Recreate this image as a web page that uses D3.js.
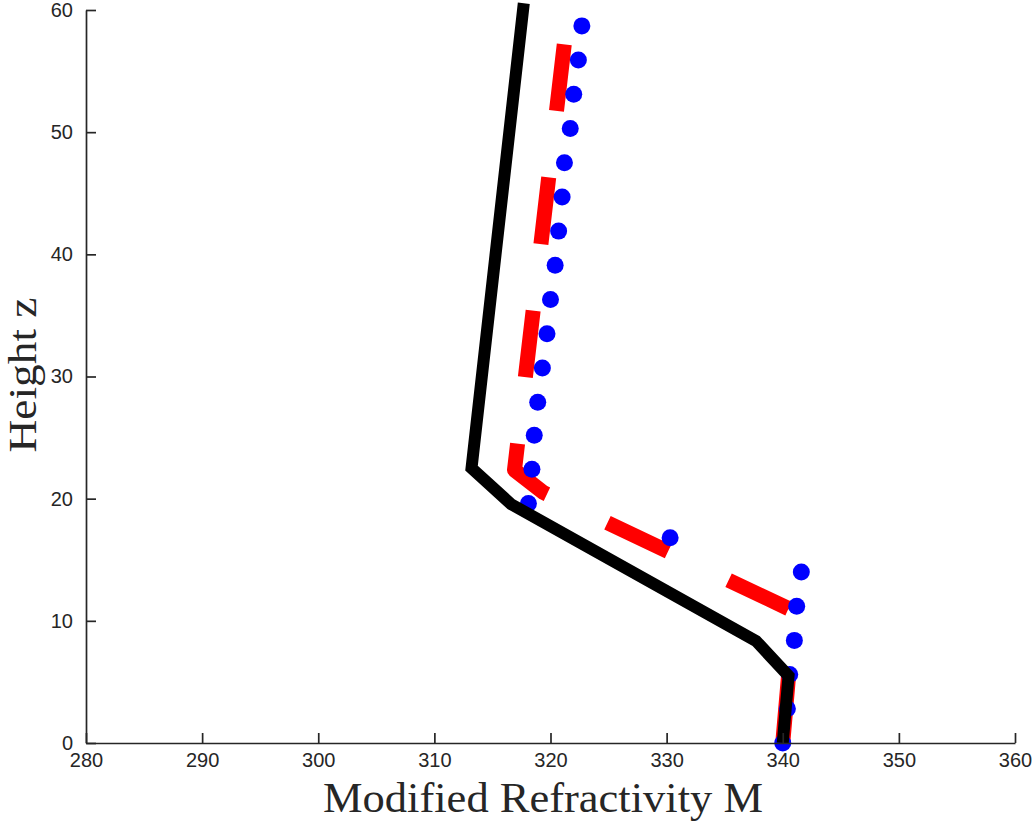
<!DOCTYPE html>
<html>
<head>
<meta charset="utf-8">
<script src="https://cdn.jsdelivr.net/npm/d3@7"></script>
<style>
  body { margin: 0; background: #fff; }
  .tick text { font-family: "Liberation Sans", Arial, sans-serif; font-size: 20px; fill: #262626; }
</style>
</head>
<body>
<div id="wrapper"></div>
<script>
// measured profile: solid black
var trueM = [340.0, 340.5, 337.7, 316.6, 313.2, 317.7];
var trueZ = [0, 5.5, 8.35, 19.55, 22.5, 60.55];

// estimated profile: red dashes
var estM = [340.0, 340.5, 340.5, 319.4, 316.9, 321.2];
var estZ = [0, 5.5, 11.0, 20.5, 22.35, 57.3];

// sampled points: blue dots
var dotM = [340.0, 340.4, 340.6, 341.0, 341.2, 341.6, 330.3, 318.1, 318.4, 318.6, 318.9,
            319.3, 319.7, 320.0, 320.4, 320.7, 321.0, 321.2, 321.7, 322.0, 322.4, 322.7];
var dotZ = [0, 2.8, 5.6, 8.4, 11.2, 14.0, 16.8, 19.6, 22.4, 25.2, 27.9,
            30.7, 33.5, 36.3, 39.1, 41.9, 44.7, 47.5, 50.3, 53.1, 55.9, 58.7];

var xTicks = [280, 290, 300, 310, 320, 330, 340, 350, 360];
var yTicks = [0, 10, 20, 30, 40, 50, 60];

var dimension = {
    width: 1032,
    height: 823,
    margin: { top: 10, left: 86, bottom: 80, right: 17 }
};
dimension.boundedWidth = dimension.width - dimension.margin.left - dimension.margin.right;
dimension.boundedHeight = dimension.height - dimension.margin.top - dimension.margin.bottom;

const svg = d3.select("#wrapper")
    .append("svg")
    .attr("width", dimension.width)
    .attr("height", dimension.height);

const bounded = svg.append("g")
    .attr("transform", `translate(${dimension.margin.left},${dimension.margin.top})`);

const xScaler = d3.scaleLinear().domain([280, 360]).range([0, dimension.boundedWidth]);
const yScaler = d3.scaleLinear().domain([0, 60]).range([dimension.boundedHeight, 0]);

const line = d3.line().x(d => xScaler(d[0])).y(d => yScaler(d[1]));

// red dashed estimate
bounded.append("path")
    .datum(d3.zip(estM, estZ))
    .attr("d", line)
    .attr("fill", "none")
    .attr("stroke", "#ff0000")
    .attr("stroke-width", 15)
    .attr("stroke-dasharray", "67 67")
    .attr("stroke-linejoin", "round");

// blue dots
bounded.append("g")
    .selectAll("circle")
    .data(d3.zip(dotM, dotZ))
    .enter()
    .append("circle")
    .attr("cx", d => xScaler(d[0]))
    .attr("cy", d => yScaler(d[1]))
    .attr("r", 8.5)
    .attr("fill", "#0000ff");

// black solid line
bounded.append("path")
    .datum(d3.zip(trueM, trueZ))
    .attr("d", line)
    .attr("fill", "none")
    .attr("stroke", "#000")
    .attr("stroke-width", 12)
    .attr("stroke-linejoin", "miter")
    .attr("stroke-miterlimit", 2);

// axes
const xAxis = bounded.append("g")
    .attr("transform", `translate(0,${dimension.boundedHeight})`)
    .call(d3.axisBottom(xScaler).tickValues(xTicks).tickSizeInner(-10).tickSizeOuter(0).tickPadding(10));
const yAxis = bounded.append("g")
    .call(d3.axisLeft(yScaler).tickValues(yTicks).tickSizeInner(-10).tickSizeOuter(0).tickPadding(13));

[xAxis, yAxis].forEach(a => {
    a.select(".domain").attr("stroke", "#262626").attr("stroke-width", 1.7);
    a.selectAll(".tick line").attr("stroke", "#262626").attr("stroke-width", 1.7);
});
xAxis.selectAll(".tick text").attr("dy", "0.72em");

// labels
svg.append("text")
    .attr("x", 543)
    .attr("y", 812)
    .attr("text-anchor", "middle")
    .attr("font-family", "'Liberation Serif', 'DejaVu Serif', serif")
    .attr("font-size", 42)
    .attr("fill", "#262626")
    .attr("textLength", 440)
    .attr("lengthAdjust", "spacingAndGlyphs")
    .text("Modified Refractivity M");

svg.append("text")
    .attr("transform", "translate(36,375) rotate(-90)")
    .attr("text-anchor", "middle")
    .attr("font-family", "'Liberation Serif', 'DejaVu Serif', serif")
    .attr("font-size", 40)
    .attr("fill", "#262626")
    .attr("textLength", 155)
    .attr("lengthAdjust", "spacingAndGlyphs")
    .text("Height z");
</script>
</body>
</html>
